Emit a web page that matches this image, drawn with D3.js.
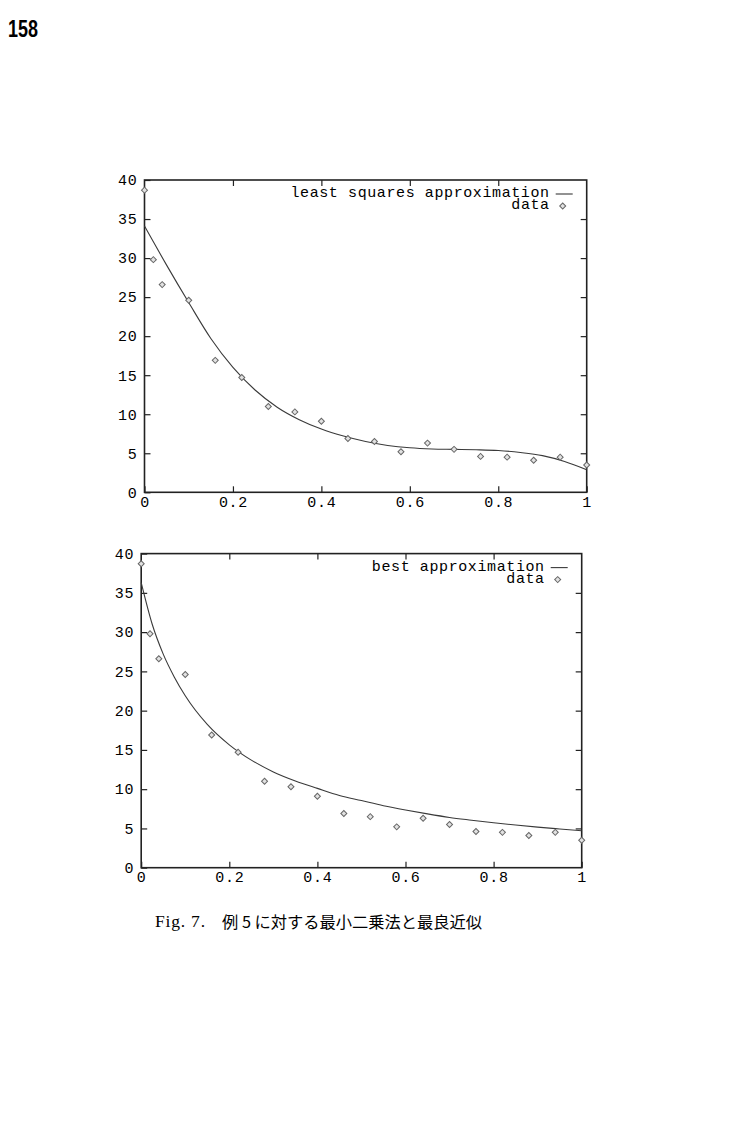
<!DOCTYPE html>
<html>
<head>
<meta charset="utf-8">
<script src="https://cdn.jsdelivr.net/npm/d3@7"></script>
<style>
	body { margin: 0; background: #fff; }
	.tick text { font-family: "Liberation Mono", "DejaVu Sans Mono", monospace; font-size: 15px; letter-spacing: 0.7px; fill: #000; }
	.legend { font-family: "Liberation Mono", "DejaVu Sans Mono", monospace; font-size: 15px; letter-spacing: 0.6px; fill: #000; }
</style>
</head>
<body>
<div id="page"></div>
<script>
// measured points (same data in both panels)
let dataX		= [0, 0.02, 0.04, 0.1, 0.16, 0.22, 0.28, 0.34, 0.4, 0.46, 0.52, 0.58, 0.64, 0.7, 0.76, 0.82, 0.88, 0.94, 1];
let dataY		= [38.7, 29.8, 26.6, 24.6, 16.9, 14.7, 11.0, 10.3, 9.1, 6.9, 6.5, 5.2, 6.3, 5.5, 4.6, 4.5, 4.1, 4.5, 3.5];

// least squares curve
let lsqX		= [0, 0.05, 0.1, 0.15, 0.2, 0.25, 0.3, 0.35, 0.4, 0.45, 0.5, 0.55, 0.6, 0.65, 0.7, 0.75, 0.8, 0.85, 0.9, 0.95, 1];
let lsqY		= [34.1, 29.1, 24.3, 19.7, 16.0, 13.1, 10.9, 9.3, 8.1, 7.2, 6.5, 6.0, 5.7, 5.55, 5.5, 5.45, 5.35, 5.1, 4.7, 3.95, 2.9];

// best approximation curve
let bestX		= [0, 0.025, 0.05, 0.075, 0.1, 0.15, 0.2, 0.25, 0.3, 0.35, 0.4, 0.45, 0.5, 0.55, 0.6, 0.65, 0.7, 0.75, 0.8, 0.85, 0.9, 0.95, 1];
let bestY		= [36.3, 31.0, 27.2, 24.3, 21.9, 18.25, 15.65, 13.7, 12.2, 11.05, 10.1, 9.2, 8.55, 7.9, 7.35, 6.85, 6.4, 6.05, 5.72, 5.43, 5.17, 4.93, 4.7];

let xTicks		= [0, 0.2, 0.4, 0.6, 0.8, 1];
let yTicks		= [0, 5, 10, 15, 20, 25, 30, 35, 40];

let svg = d3.select("#page").append("svg")
	.attr("width", 751)
	.attr("height", 1142);

svg.append("rect").attr("width", 751).attr("height", 1142).attr("fill", "#fff");

function drawPanel(box, curveX, curveY, label) {
	let x = d3.scaleLinear().domain([0, 1]).range([box.left, box.right]);
	let y = d3.scaleLinear().domain([0, 40]).range([box.bottom, box.top]);
	let fmt = d3.format("~g");

	let g = svg.append("g");

	g.append("g")
		.attr("transform", "translate(" + box.left + ",0)")
		.call(d3.axisLeft(y).tickValues(yTicks).tickFormat(fmt).tickSizeInner(-6).tickSizeOuter(0).tickPadding(7));
	g.append("g")
		.attr("transform", "translate(0," + box.bottom + ")")
		.call(d3.axisBottom(x).tickValues(xTicks).tickFormat(fmt).tickSizeInner(-6).tickSizeOuter(0).tickPadding(4));
	g.append("g")
		.attr("transform", "translate(" + box.right + ",0)")
		.call(d3.axisRight(y).tickValues(yTicks.slice(1, -1)).tickFormat("").tickSizeInner(-6).tickSizeOuter(0));
	g.append("g")
		.attr("transform", "translate(0," + box.top + ")")
		.call(d3.axisTop(x).tickValues(xTicks.slice(1, -1)).tickFormat("").tickSizeInner(-6).tickSizeOuter(0));

	g.selectAll(".domain").remove();
	g.selectAll(".tick line").attr("stroke", "#222").attr("stroke-width", 1.2);
	g.selectAll(".tick text").attr("font-family", null).attr("font-size", null);

	g.append("rect")
		.attr("x", box.left).attr("y", box.top)
		.attr("width", box.right - box.left).attr("height", box.bottom - box.top)
		.attr("fill", "none").attr("stroke", "#222").attr("stroke-width", 1.6);

	let line = d3.line().x((o) => x(o[0])).y((o) => y(o[1])).curve(d3.curveMonotoneX);
	g.append("path")
		.datum(d3.zip(curveX, curveY))
		.attr("d", line)
		.attr("fill", "none").attr("stroke", "#3a3a3a").attr("stroke-width", 1.1);

	let diamond = d3.symbol(d3.symbolSquare, 18);
	g.selectAll("path.pt")
		.data(d3.zip(dataX, dataY)).enter()
		.append("path")
			.attr("class", "pt")
			.attr("d", diamond)
			.attr("transform", (o) => "translate(" + x(o[0]) + "," + y(o[1]) + ") rotate(45)")
			.attr("fill", "#e2e2e2").attr("stroke", "#666").attr("stroke-width", 1);

	// legend
	let lx = box.right - 37;
	let ly = box.top + 17;
	g.append("text").attr("class", "legend").attr("x", lx).attr("y", ly).attr("text-anchor", "end").text(label);
	g.append("line")
		.attr("x1", lx + 6).attr("x2", lx + 23).attr("y1", ly - 3).attr("y2", ly - 3)
		.attr("stroke", "#3a3a3a").attr("stroke-width", 1.1);
	g.append("text").attr("class", "legend").attr("x", lx).attr("y", ly + 12).attr("text-anchor", "end").text("data");
	g.append("path")
		.attr("d", diamond)
		.attr("transform", "translate(" + (lx + 13) + "," + (ly + 9) + ") rotate(45)")
		.attr("fill", "#e2e2e2").attr("stroke", "#666").attr("stroke-width", 1);
}

drawPanel({ left: 144.5, right: 586.7, top: 180, bottom: 492.3 }, lsqX, lsqY, "least squares approximation");
drawPanel({ left: 141.2, right: 581.7, top: 553.6, bottom: 867.7 }, bestX, bestY, "best approximation");

// page number
svg.append("text")
	.attr("x", 8).attr("y", 37)
	.attr("font-family", "Liberation Sans, Arial, sans-serif")
	.attr("font-weight", "bold").attr("font-size", 23)
	.attr("textLength", 30).attr("lengthAdjust", "spacingAndGlyphs")
	.attr("fill", "#000")
	.text("158");

// caption
svg.append("text")
	.attr("x", 155).attr("y", 927)
	.attr("font-family", "Liberation Serif, Times New Roman, serif")
	.attr("font-size", 17.5).attr("fill", "#000")
	.attr("textLength", 50).attr("lengthAdjust", "spacing")
	.text("Fig. 7.");
svg.append("text")
	.attr("x", 222).attr("y", 928)
	.attr("font-family", "Noto Sans CJK JP, sans-serif")
	.attr("font-size", 16).attr("fill", "#000")
	.attr("textLength", 260).attr("lengthAdjust", "spacingAndGlyphs")
	.text("例 5 に対する最小二乗法と最良近似");
</script>
</body>
</html>
